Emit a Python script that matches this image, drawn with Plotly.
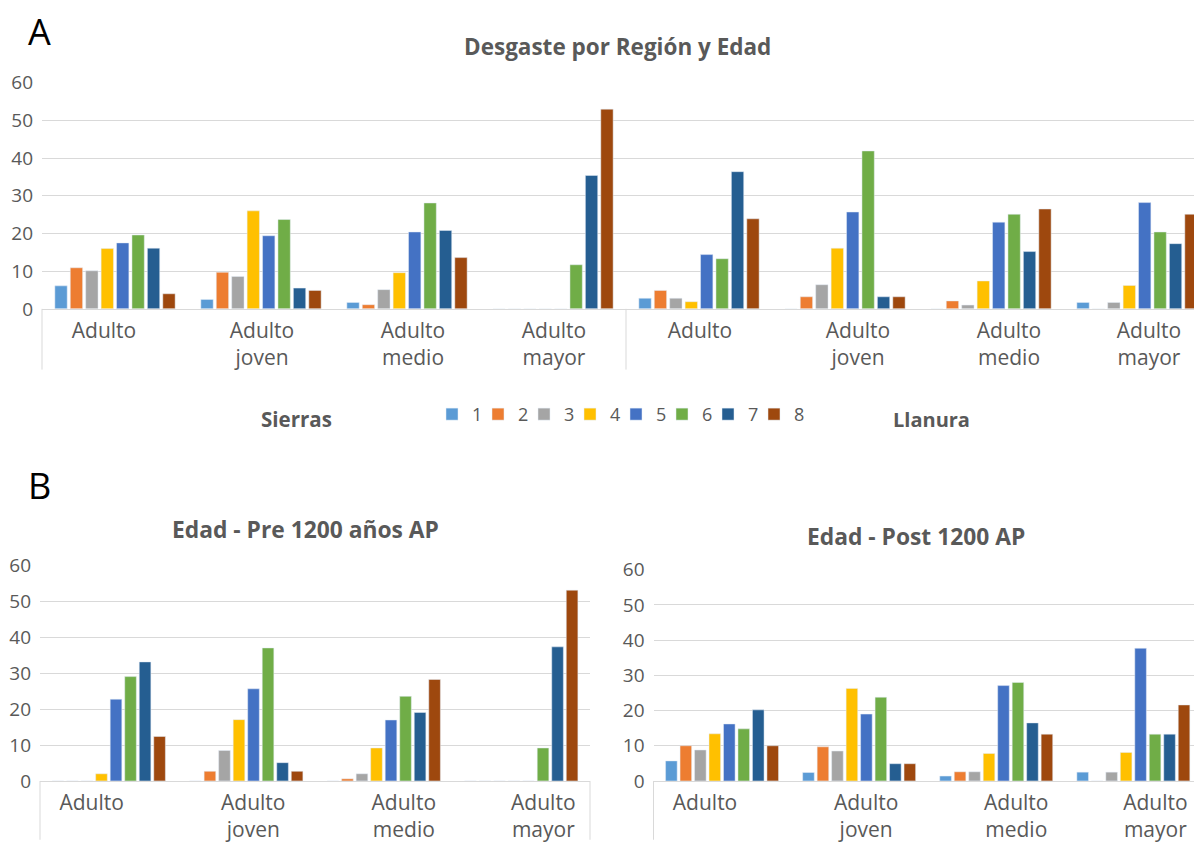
import plotly.graph_objects as go

# Observed page placement of the figure: x offset 8px, y offset ~20px with ~0.973 vertical scale
OFFX = 8
OFFY = 20.0
SY = 0.973
W, H = 1194, 842

series_names = ["1", "2", "3", "4", "5", "6", "7", "8"]
colors = ["#5B9BD5", "#ED7D31", "#A5A5A5", "#FFC000", "#4472C4", "#70AD47", "#255E91", "#9E480E"]

# Panel A: 8 categories (Sierras x4, Llanura x4)
ages_a = ["Adulto", "Adulto<br>joven", "Adulto<br>medio", "Adulto<br>mayor",
          "Adulto", "Adulto<br>joven", "Adulto<br>medio", "Adulto<br>mayor"]
regions = ["Sierras", "Llanura"]
a_s1 = [6.1, 2.5, 1.7, 0, 2.8, 0, 0, 1.7]
a_s2 = [10.9, 9.7, 1.1, 0, 4.9, 3.2, 2.1, 0]
a_s3 = [10.1, 8.6, 5.1, 0, 2.8, 6.4, 1.0, 1.7]
a_s4 = [16.0, 26.0, 9.6, 0, 1.9, 16.1, 7.4, 6.2]
a_s5 = [17.5, 19.4, 20.4, 0, 14.4, 25.7, 23.0, 28.2]
a_s6 = [19.6, 23.7, 28.1, 11.7, 13.3, 41.9, 25.1, 20.4]
a_s7 = [16.1, 5.5, 20.8, 35.4, 36.4, 3.2, 15.2, 17.3]
a_s8 = [4.0, 4.9, 13.6, 53.0, 23.9, 3.2, 26.5, 25.1]
panel_a = [a_s1, a_s2, a_s3, a_s4, a_s5, a_s6, a_s7, a_s8]

# Panel B: 4 age categories
ages_b = ["Adulto", "Adulto<br>joven", "Adulto<br>medio", "Adulto<br>mayor"]
pre_s1 = [0, 0, 0, 0]
pre_s2 = [0, 2.7, 0.6, 0]
pre_s3 = [0, 8.5, 2.0, 0]
pre_s4 = [2.0, 17.1, 9.2, 0]
pre_s5 = [22.8, 25.7, 17.0, 0]
pre_s6 = [29.1, 37.1, 23.6, 9.2]
pre_s7 = [33.2, 5.1, 19.1, 37.4]
pre_s8 = [12.4, 2.7, 28.3, 53.2]
panel_pre = [pre_s1, pre_s2, pre_s3, pre_s4, pre_s5, pre_s6, pre_s7, pre_s8]

post_s1 = [5.7, 2.4, 1.4, 2.5]
post_s2 = [10.0, 9.7, 2.6, 0]
post_s3 = [8.8, 8.5, 2.6, 2.5]
post_s4 = [13.4, 26.3, 7.8, 8.1]
post_s5 = [16.2, 19.0, 27.1, 37.7]
post_s6 = [14.8, 23.8, 28.0, 13.3]
post_s7 = [20.2, 4.9, 16.5, 13.3]
post_s8 = [10.0, 4.9, 13.3, 21.6]
panel_post = [post_s1, post_s2, post_s3, post_s4, post_s5, post_s6, post_s7, post_s8]

yticks = [0, 10, 20, 30, 40, 50, 60]

FONT = "Open Sans"
GRAY = "#595959"
GRID = "#D9D9D9"

# Excel-like label placement: small horizontal nudges of category labels (px)
LABEL_NUDGE_A = [-11, 1, 6, 1, 1, 13, 18, 12]
LABEL_NUDGE_B = [-17, 7, 20, 22]
CAT_W_A = 146.0
CAT_W_B = 137.1


def px_x(r):
    return (r - OFFX) / W


def px_y(r):
    p = (r - OFFY) / SY
    return 1 - p / H


fig = go.Figure()

xa = list(range(len(ages_a)))
xb = list(range(len(ages_b)))

for i, name in enumerate(series_names):
    fig.add_trace(go.Bar(x=xa, y=panel_a[i], name=name, marker_color=colors[i],
                         xaxis="x", yaxis="y", legendgroup=name, showlegend=True,
                         legendwidth=(14 if i == len(series_names) - 1 else None)))
    fig.add_trace(go.Bar(x=xb, y=panel_pre[i], name=name, marker_color=colors[i],
                         xaxis="x2", yaxis="y2", legendgroup=name, showlegend=False))
    fig.add_trace(go.Bar(x=xb, y=panel_post[i], name=name, marker_color=colors[i],
                         xaxis="x3", yaxis="y3", legendgroup=name, showlegend=False))

tickfont = dict(family=FONT, size=21, color=GRAY)
yfont = dict(family=FONT, size=19, color=GRAY)


def xaxis_cfg(dom, rng, labels, anchor, nudge, catw):
    tv = [i + nudge[i] / catw for i in range(len(labels))]
    return dict(domain=dom, range=rng, anchor=anchor, tickmode="array",
                tickvals=tv, ticktext=labels, tickfont=tickfont,
                showgrid=False, zeroline=False, showline=True, linecolor=GRID, linewidth=1,
                ticks="", ticklabelstandoff=3, fixedrange=True)


def yaxis_cfg(dom, anchor):
    return dict(domain=dom, range=[0, 60], anchor=anchor, tickmode="array", tickvals=yticks,
                tickfont=yfont, showgrid=True, gridcolor=GRID, gridwidth=1, zeroline=False,
                showline=False, ticks="", ticklabelstandoff=8, fixedrange=True)


right_edge = OFFX + W  # screen px of the paper's right edge
top_xr = [-0.5, -0.5 + (right_edge - 42) / CAT_W_A]
br_xr = [-0.5, -0.5 + (right_edge - 653.5) / CAT_W_B]

fig.update_layout(
    width=W, height=H,
    margin=dict(l=0, r=0, t=0, b=0),
    paper_bgcolor="white", plot_bgcolor="white",
    barmode="group", bargap=0.155, bargroupgap=0.2,
    font=dict(family=FONT, color=GRAY),
    xaxis=xaxis_cfg([px_x(42), 1.0], top_xr, ages_a, "y", LABEL_NUDGE_A, CAT_W_A),
    yaxis=yaxis_cfg([px_y(309), px_y(82)], "x"),
    xaxis2=xaxis_cfg([px_x(40), px_x(590)], [-0.5, 3.5], ages_b, "y2", LABEL_NUDGE_B, CAT_W_B),
    yaxis2=yaxis_cfg([px_y(783), px_y(567)], "x2"),
    xaxis3=xaxis_cfg([px_x(653.5), 1.0], br_xr, ages_b, "y3", LABEL_NUDGE_B, CAT_W_B),
    yaxis3=yaxis_cfg([px_y(783), px_y(571)], "x3"),
    legend=dict(orientation="h", x=px_x(432), y=px_y(415), xanchor="left", yanchor="middle",
                font=dict(family=FONT, size=18, color=GRAY), entrywidth=1,
                entrywidthmode="pixels", bgcolor="rgba(0,0,0,0)", traceorder="normal"),
    showlegend=True,
)


def label(text, xr, yr, size, color=GRAY):
    return dict(text=text, x=px_x(xr), y=px_y(yr), xref="paper", yref="paper",
                xanchor="center", yanchor="middle", showarrow=False,
                font=dict(family=FONT, size=size, color=color))


ann = [
    label("A", 39, 31, 36, "black"),
    label("B", 39, 486, 36, "black"),
    label("<b>Desgaste por Región y Edad</b>", 617, 46, 22.5),
    label("<b>Edad - Pre 1200 años AP</b>", 305, 531, 22.8),
    label("<b>Edad - Post 1200 AP</b>", 916, 538, 22.8),
    label("<b>" + regions[0] + "</b>", 296, 420, 20.5),
    label("<b>" + regions[1] + "</b>", 931, 420, 20),
]
fig.update_layout(annotations=ann)

shapes = []


def vline(xp, y0p, y1p):
    shapes.append(dict(type="line", xref="paper", yref="paper", x0=px_x(xp), x1=px_x(xp),
                       y0=px_y(y0p), y1=px_y(y1p), line=dict(color=GRID, width=1)))


vline(42, 309, 370)
vline(42 + 4 * 146, 309, 370)
vline(40, 783, 842)
vline(590, 783, 842)
vline(653.5, 783, 842)
vline(1201, 783, 842)
fig.update_layout(shapes=shapes)

fig.write_html("out.html")
